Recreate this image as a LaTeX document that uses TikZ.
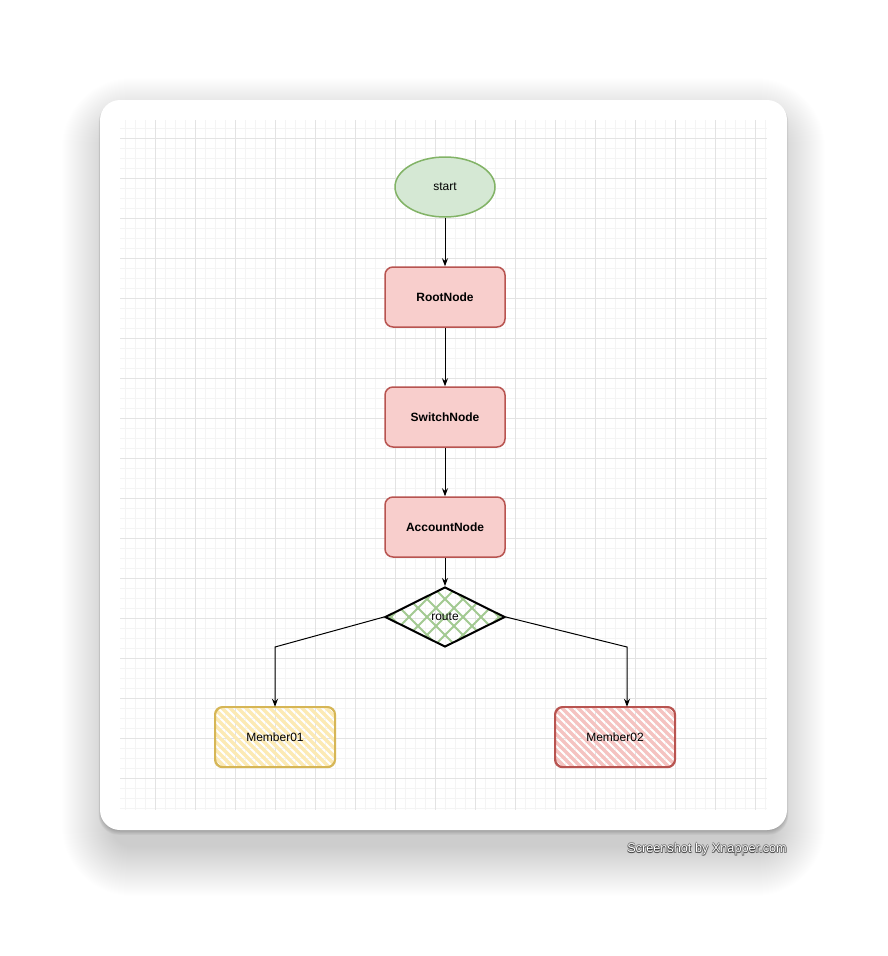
\documentclass[tikz,border=0pt]{standalone}
\usepackage{fontspec}
\setmainfont{Liberation Sans}
\usetikzlibrary{shapes.geometric,arrows.meta}
\definecolor{gfill}{HTML}{D5E8D4}
\definecolor{gline}{HTML}{82B366}
\definecolor{ghatch}{HTML}{A3CA92}
\definecolor{rfill}{HTML}{F8CECC}
\definecolor{rline}{HTML}{B85450}
\definecolor{rhatch}{HTML}{F5C3C1}
\definecolor{yfill}{HTML}{FFF2CC}
\definecolor{yline}{HTML}{D6B656}
\definecolor{yhatch}{HTML}{FCEAB4}
\definecolor{gridminor}{HTML}{F4F4F4}
\definecolor{gridmajor}{HTML}{E3E3E3}
\begin{document}
\begin{tikzpicture}[x=1pt,y=-1pt,
  lbl/.style={font=\fontsize{12}{14}\selectfont, text=black},
  startbox/.style={ellipse, draw=gline, fill=gfill, line width=1.5pt, minimum width=100pt, minimum height=60pt, inner sep=0pt, lbl},
  procbox/.style={rectangle, rounded corners=8pt, draw=rline, fill=rfill, line width=1.5pt, minimum width=120pt, minimum height=60pt, inner sep=0pt, font=\fontsize{12}{14}\selectfont\bfseries},
  routebox/.style={diamond, aspect=2, minimum width=120pt, minimum height=60pt, inner sep=0pt, draw=black, line width=2pt, lbl,
    path picture={
      \foreach \i in {-108,-90,...,108}{
        \draw[ghatch, line width=2pt] ([xshift=\i pt]path picture bounding box.center) ++(-40,-40) -- ++(80,80);
        \draw[ghatch, line width=2pt] ([xshift=\i pt]path picture bounding box.center) ++(-40,40) -- ++(80,-80);
      }}},
  hatchbox/.style={rectangle, rounded corners=8pt, minimum width=120pt, minimum height=60pt, inner sep=0pt, lbl,
    path picture={
      \foreach \i in {-104,-96,...,104}{
        \draw[#1, line width=3.5pt] ([xshift=\i pt]path picture bounding box.center) ++(-40,-40) -- ++(80,80);
      }}},
  sketch/.style={draw=#1, line width=1.7pt, rounded corners=8pt},
  arr/.style={-{Stealth[length=8pt,width=6pt]}, line width=1pt, draw=black}
]
\useasboundingbox (0,0) rectangle (887,956);
\fill[white] (0,0) rectangle (887,956);

% card shadow: broad soft part
\foreach \k in {1,...,50}{
  \fill[black, fill opacity=0.0032, rounded corners={20pt+\k pt}] (112-\k,128-\k) rectangle (775+\k,846+\k);
}
% card shadow: close contact part
\foreach \k in {1,...,6}{
  \fill[black, fill opacity=0.035, rounded corners=20pt] (101-0.4*\k,102) rectangle (786+0.4*\k,830+0.8*\k);
}
% card
\fill[white, rounded corners=20pt] (100,100) rectangle (787,830);

% grid
\begin{scope}
\clip (120,120) rectangle (767,810);
\foreach \x in {125,135,...,765} \draw[gridminor, line width=1pt] (\x,120) -- (\x,810);
\foreach \y in {128,138,...,808} \draw[gridminor, line width=1pt] (120,\y) -- (767,\y);
\foreach \x in {155,195,...,755} \draw[gridmajor, line width=0.9pt] (\x,120) -- (\x,810);
\foreach \y in {138,178,...,778} \draw[gridmajor, line width=0.9pt] (120,\y) -- (767,\y);
\end{scope}

% nodes
\node[startbox] (start) at (445,187) {start};
\node[procbox] (root) at (445,297) {RootNode};
\node[procbox] (switch) at (445,417) {SwitchNode};
\node[procbox] (account) at (445,527) {AccountNode};
\node[routebox] (route) at (445,617) {route};
\node[hatchbox=yhatch] (m1) at (275,737) {Member01};
\node[hatchbox=rhatch] (m2) at (615,737) {Member02};

% sketchy borders
\draw[sketch=yline] ([shift={(0.5,0.3)}]m1.north west) rectangle ([shift={(-0.3,-0.2)}]m1.south east);
\draw[sketch=yline, line width=1pt] ([shift={(-0.3,-0.3)}]m1.north west) rectangle ([shift={(0.3,0.5)}]m1.south east);
\draw[sketch=rline] ([shift={(0.5,0.3)}]m2.north west) rectangle ([shift={(-0.3,-0.2)}]m2.south east);
\draw[sketch=rline, line width=1pt] ([shift={(-0.3,-0.3)}]m2.north west) rectangle ([shift={(0.3,0.5)}]m2.south east);

% connectors
\draw[arr] (start) -- (root);
\draw[arr] (root) -- (switch);
\draw[arr] (switch) -- (account);
\draw[arr] (account) -- (route);
\coordinate (bL) at (275,647);
\coordinate (bR) at (627,647);
\draw[arr] (route.west) -- (bL) -- (bL |- m1.north);
\draw[arr] (route.east) -- (bR) -- (bR |- m2.north);

% watermark
\foreach \dx/\dy in {0/1.2,0.8/1,-0.6/1,0.6/0,-0.6/0,0/-0.5}{
  \node[anchor=east, inner sep=0pt, font=\fontsize{12.7}{15}\selectfont, text=black, text opacity=0.35] at (787+\dx,849+\dy) {Screenshot by Xnapper.com};
}
\node[anchor=east, inner sep=0pt, font=\fontsize{12.7}{15}\selectfont, text=white] (wm) at (787,849) {Screenshot by Xnapper.com};
\end{tikzpicture}
\end{document}
